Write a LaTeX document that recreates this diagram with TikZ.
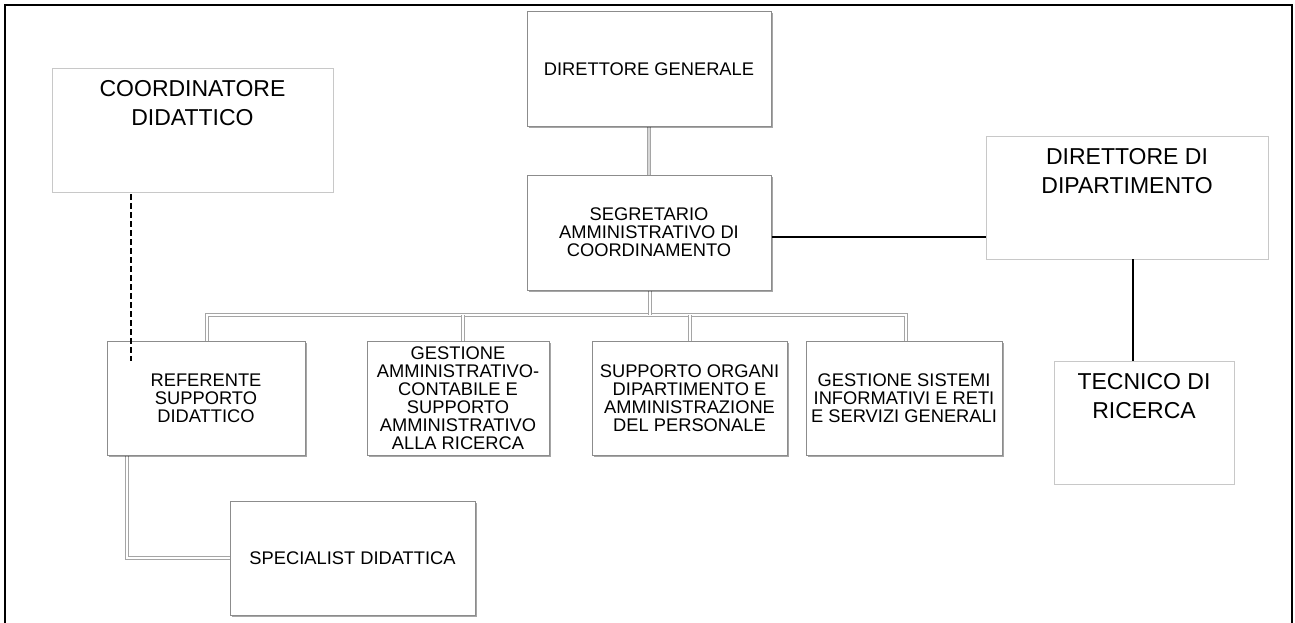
\documentclass[tikz,border=0pt]{standalone}
\usepackage{fontspec}
\setmainfont{Liberation Sans}
\usetikzlibrary{shadows,calc}
\definecolor{boxline}{RGB}{140,140,140}
\definecolor{lightline}{RGB}{200,200,200}
\definecolor{connline}{RGB}{165,165,165}
\definecolor{connfill}{RGB}{215,215,215}
\begin{document}
\begin{tikzpicture}[x=1pt,y=-1pt,
  orgbox/.style={draw=boxline, line width=1pt, fill=white, inner sep=0pt,
    align=center, font=\fontsize{18.3}{18}\selectfont,
    drop shadow={shadow xshift=1.5pt, shadow yshift=-1.5pt, fill=black, opacity=0.35}},
  plainbox/.style={draw=lightline, line width=0.8pt, fill=white, inner sep=0pt},
  titletext/.style={anchor=north, inner sep=0pt, align=center,
    font=\fontsize{23}{29.5}\selectfont},
  busline/.style={draw=connline, line width=0.9pt, double=white, double distance=1.6pt},
  stemline/.style={draw=connline, line width=0.9pt, double=connfill, double distance=2.8pt},
  solidline/.style={draw=black, line width=1.5pt},
  dashline/.style={draw=black, line width=1.5pt, dash pattern=on 6pt off 3pt}]
\useasboundingbox (0,0) rectangle (1295,623);
% frame
\draw[line width=2pt] (5,623) -- (5,5) -- (1292,5) -- (1292,623);

% plain boxes with top-aligned titles
\node[plainbox, minimum width=281pt, minimum height=124pt] (coord) at (192.5,130) {};
\node[titletext] (coordT) at (192.5,80) {COORDINATORE\\DIDATTICO};
\node[plainbox, minimum width=282pt, minimum height=123pt] (ddip) at (1127,197.5) {};
\node[titletext] (ddipT) at (1127,148) {DIRETTORE DI\\DIPARTIMENTO};
\node[plainbox, minimum width=180pt, minimum height=123pt] (tec) at (1144,422.5) {};
\node[titletext] (tecT) at (1144,373) {TECNICO DI\\RICERCA};

% connectors (drawn before shadowed boxes)
\draw[stemline] (649,127) -- (649,175);
\coordinate (busL) at (207,315);
\coordinate (busR) at (906,315);
\draw[busline] (207,341) -- (busL) -- (busR) -- (906,341);
\draw[busline] (463,315) -- (463,341);
\draw[busline] (690,315) -- (690,341);
\draw[busline] (650,290) -- (650,315);
\draw[busline] (127,455) -- (127,558) -- (230,558);

% org chart boxes
\node[orgbox, minimum width=244pt, minimum height=115pt] (dg) at (649,69.5) {DIRETTORE GENERALE};
\node[orgbox, minimum width=244pt, minimum height=115pt] (seg) at (649,232.5) {SEGRETARIO\\AMMINISTRATIVO DI\\COORDINAMENTO};
\node[orgbox, minimum width=198pt, minimum height=114pt] (ref) at (206,398) {REFERENTE\\SUPPORTO\\DIDATTICO};
\node[orgbox, minimum width=182pt, minimum height=114pt] (ga) at (458,398) {GESTIONE\\AMMINISTRATIVO-\\CONTABILE E\\SUPPORTO\\AMMINISTRATIVO\\ALLA RICERCA};
\node[orgbox, minimum width=195pt, minimum height=114pt] (so) at (689.5,398) {SUPPORTO ORGANI\\DIPARTIMENTO E\\AMMINISTRAZIONE\\DEL PERSONALE};
\node[orgbox, minimum width=196pt, minimum height=114pt] (gs) at (904,398) {GESTIONE SISTEMI\\INFORMATIVI E RETI\\E SERVIZI GENERALI};
\node[orgbox, minimum width=245pt, minimum height=114pt] (spec) at (352.5,558) {SPECIALIST DIDATTICA};

% black connectors
\draw[solidline] (seg.east |- 0,237) -- (ddip.west |- 0,237);
\draw[solidline] (ddip.south -| 1133,0) -- (tec.north -| 1133,0);
\coordinate (dashEnd) at (131,361);
\draw[dashline] (coord.south -| 131,0) ++(0,2) -- (dashEnd);
\end{tikzpicture}
\end{document}
